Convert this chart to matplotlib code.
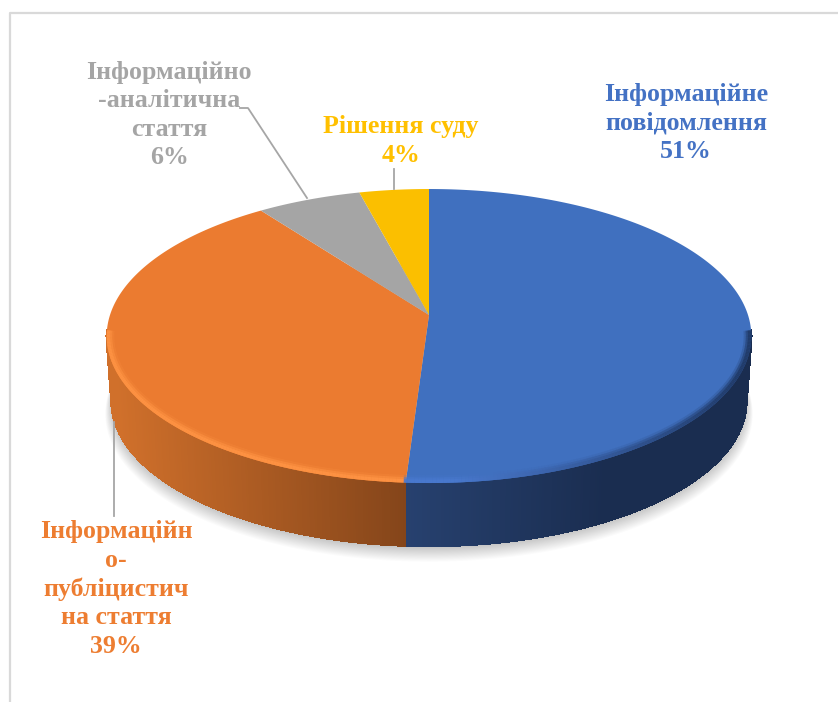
import numpy as np
import matplotlib
matplotlib.use("Agg")
import matplotlib.pyplot as plt
from matplotlib.patches import Polygon
from matplotlib.collections import LineCollection, PolyCollection

# shares, clockwise from 12 o'clock
labels = ["Інформаційне\nповідомлення\n51%",
          "Інформаційн\nо-\nпубліцистич\nна стаття\n39%",
          "Інформаційно\n-аналітична\nстаття\n6%",
          "Рішення суду\n4%"]
values = [51, 39, 6, 4]
top_colors = ["#4070BF", "#EB7B30", "#A5A5A5", "#FBBF00"]
text_colors = ["#4472C4", "#ED7D31", "#A5A5A5", "#FFC000"]
text_pos = [(686, 123), (116, 589), (169, 115), (401, 141)]

# perspective of the disc
CX, CY = 429, 315
W, S, K = 319, 144, 0.143
DEPTH_Y = 65.5
BOTTOM_SCALE = 0.985


def project(theta, scale=1.0, dy=0.0):
    s, c = np.sin(theta), np.cos(theta)
    d = 1 + K * c
    return CX + scale * W * s / d, CY + dy - scale * S * c / d


def mix(a, b, t):
    a, b = np.array(matplotlib.colors.to_rgb(a)), np.array(matplotlib.colors.to_rgb(b))
    return tuple(a + (b - a) * t)


def side_color(slice_i, x):
    if slice_i == 0:
        return mix("#27416F", "#1A2D50", min(max((x - 405) / 200, 0), 1))
    return mix("#D0702B", "#84451A", min(max((x - 115) / 290, 0), 1))


def bevel_color(slice_i, x):
    if slice_i == 0:
        return mix("#4A7AD0", "#1F3864", min(max((x - 450) / 290, 0), 1))
    return "#FF9444"


fig = plt.figure(figsize=(8.38, 7.02), dpi=100)
ax = fig.add_axes([0, 0, 1, 1])
ax.set_xlim(0, 838)
ax.set_ylim(702, 0)
ax.axis("off")

# frame of the chart area
ax.plot([9.5, 9.5, 838], [702, 12.5, 12.5], color="#D9D9D9", lw=1.6)

cum = np.cumsum([0] + values) / sum(values) * 2 * np.pi
all_t = np.linspace(0, 2 * np.pi, 361)

# soft shadow
for i in range(14):
    x, y = project(all_t, BOTTOM_SCALE + i * 0.0015, DEPTH_Y + 2 + i * 0.8)
    ax.add_patch(Polygon(np.c_[x, y], fc="black", ec="none", alpha=0.016, zorder=1))

# side wall
t = np.linspace(np.radians(96), np.radians(264), 401)
quads, cols = [], []
for a, b in zip(t[:-1], t[1:]):
    x1, y1 = project(a)
    x2, y2 = project(b)
    x3, y3 = project(b, BOTTOM_SCALE, DEPTH_Y)
    x4, y4 = project(a, BOTTOM_SCALE, DEPTH_Y)
    quads.append([(x1, y1), (x2, y2), (x3, y3), (x4, y4)])
    cols.append(side_color(0 if a < cum[1] else 1, (x1 + x2) / 2))
ax.add_collection(PolyCollection(quads, facecolors=cols, edgecolors=cols, lw=1.0,
                                 antialiaseds=False, zorder=2))

# top face
for i, v in enumerate(values):
    t = np.linspace(cum[i], cum[i + 1], 200)
    x, y = project(t)
    ax.add_patch(Polygon(np.r_[[[CX, CY]], np.c_[x, y]], fc=top_colors[i], ec="none", zorder=3))

# bevel along the front rim, kept inside the top face
rx, ry = project(all_t)
rim = Polygon(np.c_[rx, ry], transform=ax.transData, fc="none", ec="none")
ax.add_patch(rim)
t = np.linspace(np.radians(96), np.radians(264), 301)
for width, alpha in [(11, 0.2), (8, 0.5), (5, 0.8)]:
    segs, cols = [], []
    for a, b in zip(t[:-1], t[1:]):
        x1, y1 = project(a, 1.0, 0)
        x2, y2 = project(b, 1.0, 0)
        segs.append([(x1, y1), (x2, y2)])
        cols.append(bevel_color(0 if a < cum[1] else 1, x1))
    lc = LineCollection(segs, colors=cols, linewidths=width, alpha=alpha,
                        capstyle="butt", zorder=4)
    ax.add_collection(lc)
    lc.set_clip_path(rim)

# leader lines
ax.plot([240, 248, 307], [108, 108, 198], color="#A6A6A6", lw=1.3, zorder=5)
ax.plot([393.5, 393.5], [169, 189], color="#A6A6A6", lw=1.3, zorder=5)
ax.plot([114, 114], [422, 516], color="#A6A6A6", lw=1.3, zorder=5)

for lab, col, (x, y) in zip(labels, text_colors, text_pos):
    ax.text(x, y, lab, color=col, ha="center", va="center", multialignment="center",
            family="Liberation Serif", weight="bold", fontsize=18.6, linespacing=1.31, zorder=6)

fig.savefig("out.png", dpi=100)
